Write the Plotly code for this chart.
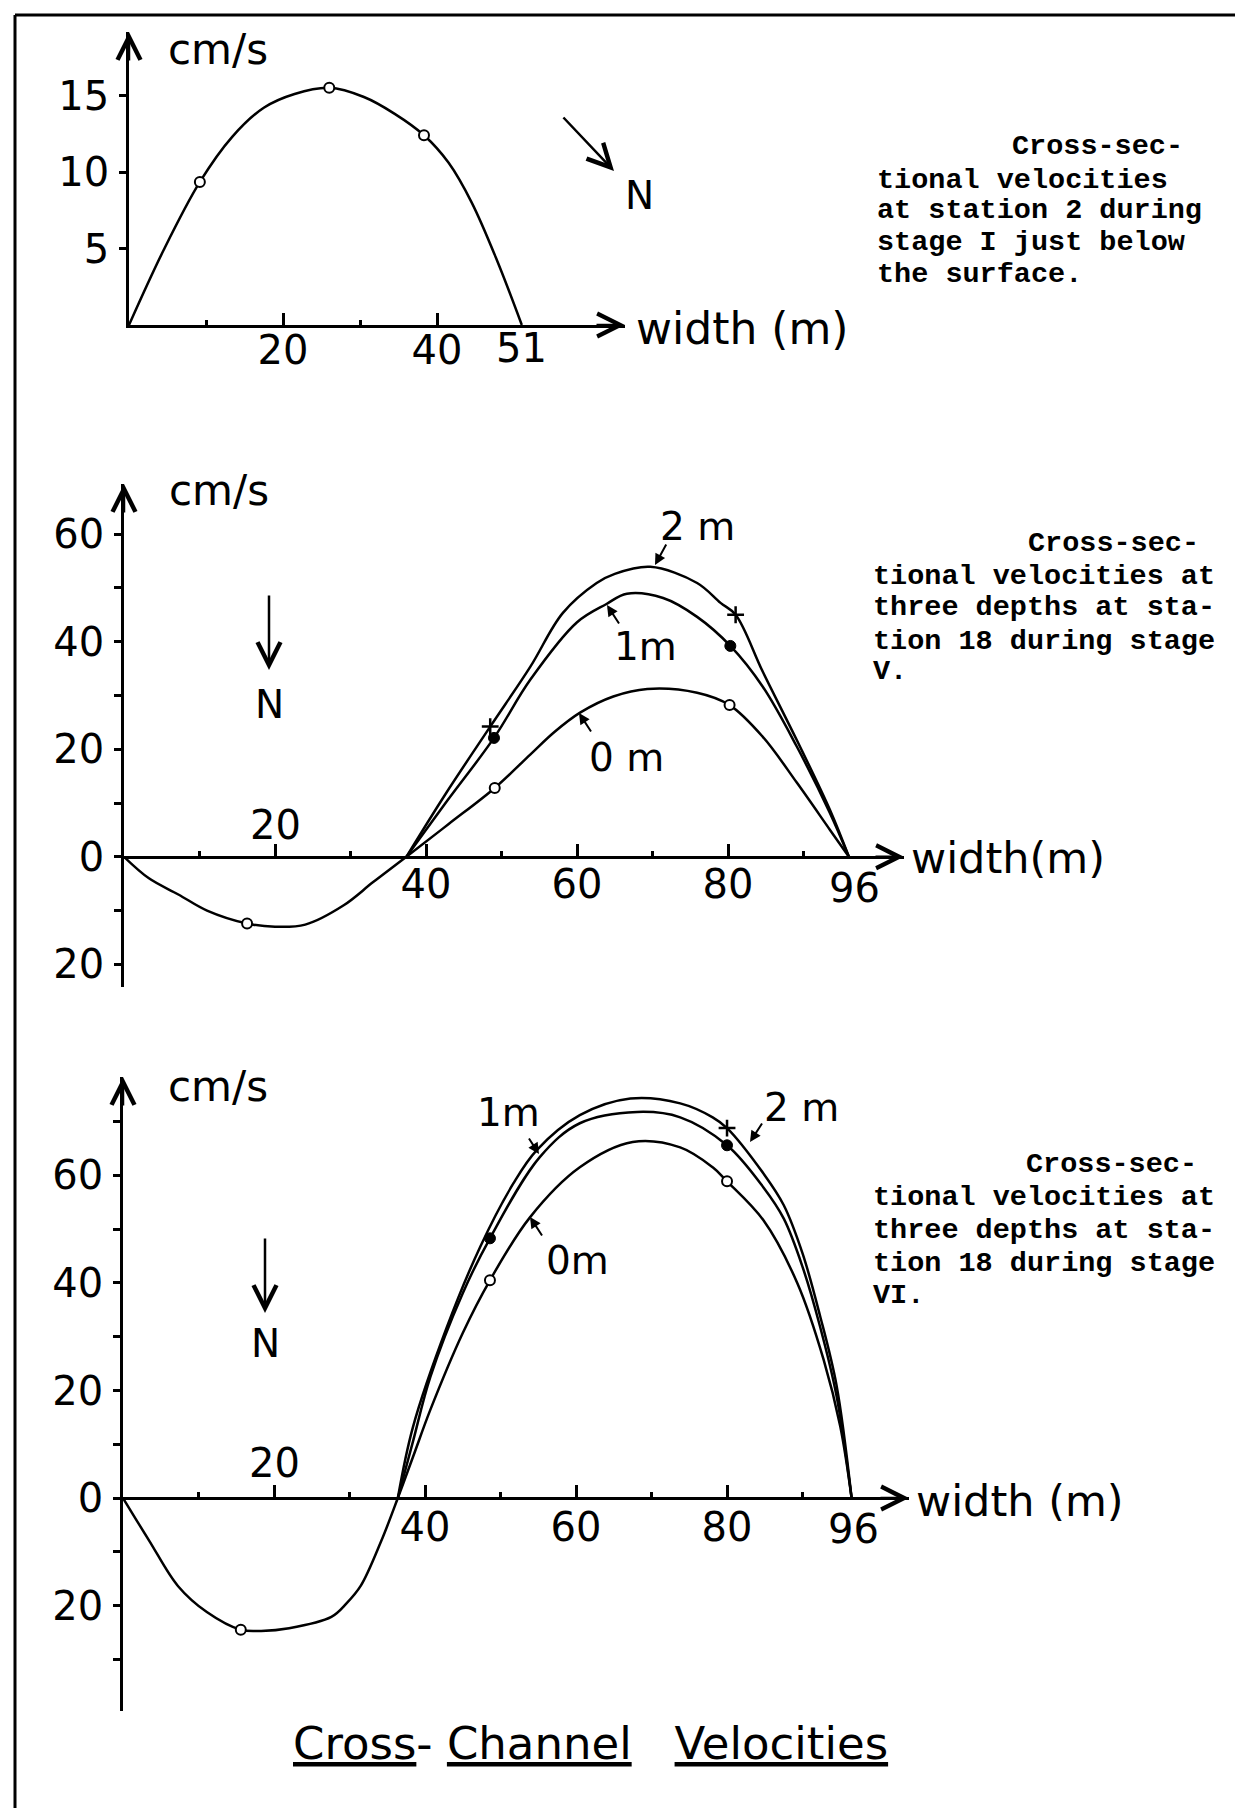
import plotly.graph_objects as go

# page geometry (the html body has an 8 px margin)
PAGE_W, PAGE_H = 1243, 1816
OFF = 8
FW, FH = PAGE_W - OFF, PAGE_H - 2 * OFF

# ---------------- data ----------------
# Panel 1: station 2, stage I, just below the surface
p1_curve_x = [0, 4.5, 9.2, 13.4, 17.5, 21.5, 26.0, 30.5, 34.5, 38.3, 41.5, 44.5, 47.8, 51]
p1_curve_y = [0, 4.9, 9.35, 12.3, 14.2, 15.1, 15.5, 14.9, 13.8, 12.4, 10.6, 8.0, 4.2, 0]
p1_pts_x = [9.2, 26.0, 38.3]
p1_pts_y = [9.35, 15.5, 12.4]
p1_ytick_vals = [5, 10, 15]
p1_ytick_text = ["5", "10", "15"]
p1_xtick_vals = [20, 40]
p1_xtick_text = ["20", "40"]
p1_xminor = [10, 30]
p1_xend_label = (51, "51")

# Panel 2: station 18, stage V (three depths)
p2_0m_x = [0, 3.3, 7.2, 11.0, 16.3, 20.0, 24.0, 29.1, 33.0, 37.4, 43.0, 49.1, 53.8, 57.0, 60.4, 64.8, 69.3, 75.9, 80.2, 84.6, 89.1, 93.5, 96]
p2_0m_y = [0, -4.0, -7.0, -10.0, -12.4, -13.0, -12.6, -9.0, -4.7, 0, 6.1, 12.8, 19.0, 23.2, 26.8, 29.8, 31.2, 30.5, 28.2, 22.3, 13.8, 5.0, 0]
p2_1m_x = [37.4, 42.8, 49.0, 53.8, 60.0, 63.9, 66.6, 71.4, 75.9, 80.3, 84.6, 89.1, 93.5, 96]
p2_1m_y = [0, 10.4, 22.1, 32.9, 43.6, 47.0, 48.9, 48.1, 44.6, 39.2, 31.6, 20.5, 8.1, 0]
p2_2m_x = [37.4, 42.5, 48.5, 53.8, 58.1, 62.6, 65.0, 69.7, 75.9, 79.0, 81.0, 84.6, 89.1, 93.5, 96]
p2_2m_y = [0, 11.5, 24.2, 35.3, 45.3, 50.9, 52.6, 53.9, 50.9, 47.2, 45.0, 34.4, 21.7, 8.7, 0]
p2_0m_pts_x = [16.3, 49.1, 80.2]
p2_0m_pts_y = [-12.4, 12.8, 28.2]
p2_1m_pts_x = [49.0, 80.3]
p2_1m_pts_y = [22.1, 39.2]
p2_2m_pts_x = [48.5, 81.0]
p2_2m_pts_y = [24.2, 45.0]
p2_ytick_vals = [-20, -10, 0, 10, 20, 30, 40, 50, 60]
p2_ytick_text = ["20", "", "0", "", "20", "", "40", "", "60"]

# Panel 3: station 18, stage VI (three depths)
p3_0m_x = [0, 3.5, 7.3, 11.1, 15.6, 18.3, 22.0, 27.6, 29.6, 31.5, 34.2, 36.4, 38.5, 40.7, 45.0, 48.6, 53.9, 60.5, 67.5, 73.8, 78.1, 80.0, 84.8, 89.3, 92.8, 95.0, 96.5]
p3_0m_y = [0, -8.0, -16.4, -21.2, -24.5, -24.7, -24.2, -22.1, -19.6, -16.3, -8.0, 0, 8.0, 16.4, 30.7, 40.5, 52.2, 61.5, 66.2, 65.2, 61.5, 58.9, 51.7, 40.0, 25.7, 13.3, 0]
p3_1m_x = [36.4, 38.4, 40.7, 45.0, 48.6, 55.2, 60.5, 68.1, 73.8, 80.0, 84.8, 87.5, 90.0, 92.3, 94.5, 96.5]
p3_1m_y = [0, 10.5, 22.5, 38.1, 48.3, 63.4, 69.7, 71.8, 70.8, 65.6, 57.8, 52.0, 43.0, 32.0, 19.0, 0]
p3_2m_x = [36.4, 38.4, 42.9, 47.3, 51.7, 54.8, 60.5, 67.2, 73.8, 78.1, 80.0, 84.8, 87.5, 90.0, 92.3, 94.5, 96.5]
p3_2m_y = [0, 13.2, 31.8, 46.7, 58.5, 64.7, 71.2, 74.3, 73.4, 70.8, 68.8, 60.4, 54.5, 45.5, 34.0, 21.0, 0]
p3_0m_pts_x = [15.6, 48.6, 80.0]
p3_0m_pts_y = [-24.5, 40.5, 58.9]
p3_1m_pts_x = [48.6, 80.0]
p3_1m_pts_y = [48.3, 65.6]
p3_2m_pts_x = [80.0]
p3_2m_pts_y = [68.8]
p3_ytick_vals = [-30, -20, -10, 0, 10, 20, 30, 40, 50, 60, 70]
p3_ytick_text = ["", "20", "", "0", "", "20", "", "40", "", "60", ""]

# shared x ticks for panels 2 and 3
p23_xtick_vals = [20, 40, 60, 80]
p23_xtick_text = ["", "40", "60", "80"]
p23_xminor = [10, 30, 50, 70, 90]
p23_x_above_label = (20, "20")
p23_xend_label = (96, "96")

caption1 = ["Cross-sec-", "tional velocities", "at station 2 during", "stage I just below", "the surface."]
caption2 = ["Cross-sec-", "tional velocities at", "three depths at sta-", "tion 18 during stage", "V."]
caption3 = ["Cross-sec-", "tional velocities at", "three depths at sta-", "tion 18 during stage", "VI."]

# ---------------- helpers ----------------
def px(x):
    return (x - OFF) / FW

def py(y):
    return 1 - (y - OFF) / FH

SANS = "DejaVu Sans"
MONO = "Liberation Mono"
FS = 40

fig = go.Figure()

def curve(x, y, xa, ya):
    fig.add_trace(go.Scatter(x=x, y=y, mode="lines", xaxis=xa, yaxis=ya,
                             line=dict(color="black", width=2.5, shape="spline", smoothing=1.0),
                             hoverinfo="skip", showlegend=False))

def points(x, y, xa, ya, kind):
    if kind == "open":
        m = dict(symbol="circle", size=10, color="white", line=dict(color="black", width=2))
    elif kind == "filled":
        m = dict(symbol="circle", size=11, color="black", line=dict(color="black", width=1))
    else:
        m = dict(symbol="cross-thin", size=12, color="black", line=dict(color="black", width=2.5))
    fig.add_trace(go.Scatter(x=x, y=y, mode="markers", xaxis=xa, yaxis=ya, marker=m,
                             hoverinfo="skip", showlegend=False))

curve(p1_curve_x, p1_curve_y, "x", "y")
points(p1_pts_x, p1_pts_y, "x", "y", "open")

curve(p2_0m_x, p2_0m_y, "x2", "y2")
curve(p2_1m_x, p2_1m_y, "x2", "y2")
curve(p2_2m_x, p2_2m_y, "x2", "y2")
points(p2_0m_pts_x, p2_0m_pts_y, "x2", "y2", "open")
points(p2_1m_pts_x, p2_1m_pts_y, "x2", "y2", "filled")
points(p2_2m_pts_x, p2_2m_pts_y, "x2", "y2", "plus")

curve(p3_0m_x, p3_0m_y, "x3", "y3")
curve(p3_1m_x, p3_1m_y, "x3", "y3")
curve(p3_2m_x, p3_2m_y, "x3", "y3")
points(p3_0m_pts_x, p3_0m_pts_y, "x3", "y3", "open")
points(p3_1m_pts_x, p3_1m_pts_y, "x3", "y3", "filled")
points(p3_2m_pts_x, p3_2m_pts_y, "x3", "y3", "plus")

tickfont = dict(family=SANS, size=FS, color="black")

def xaxis(domain, rng, tv, tt, minor, anchor, standoff, position=None):
    d = dict(domain=domain, range=rng, showline=True, linecolor="black", linewidth=2.5,
             showgrid=False, zeroline=False, tickmode="array", tickvals=tv, ticktext=tt,
             ticks="inside", ticklen=12, tickwidth=2.5, tickcolor="black", tickfont=tickfont,
             ticklabelstandoff=standoff,
             minor=dict(tickmode="array", tickvals=minor, ticks="inside", ticklen=5,
                        tickwidth=2.5, tickcolor="black"),
             fixedrange=True)
    if position is None:
        d["anchor"] = anchor
    else:
        d["anchor"] = "free"
        d["position"] = position
    return d

def yaxis(domain, rng, tv, tt, anchor):
    return dict(domain=domain, range=rng, anchor=anchor, showline=True, linecolor="black",
                linewidth=2.5, showgrid=False, zeroline=False, tickmode="array", tickvals=tv,
                ticktext=tt, ticks="outside", ticklen=7, tickwidth=2.5, tickcolor="black",
                tickfont=tickfont, ticklabelstandoff=2, fixedrange=True)

# ranges (derived from pixel layout of the reference)
r1x, r1y = [0, 64.4], [0, 19.15]
r2x, r2y = [0, 103.3], [-24.2, 69.3]
r3x, r3y = [0, 104.1], [-39.6, 78.3]

layout = dict(
    width=FW, height=FH, autosize=False,
    margin=dict(l=0, r=0, t=0, b=0),
    paper_bgcolor="white", plot_bgcolor="white",
    showlegend=False,
    xaxis=xaxis([px(129), px(625)], r1x, p1_xtick_vals, p1_xtick_text, p1_xminor, "y", -12),
    yaxis=yaxis([py(325), py(32)], r1y, p1_ytick_vals, p1_ytick_text, "x"),
    xaxis2=xaxis([px(124), px(904)], r2x, p23_xtick_vals, p23_xtick_text, p23_xminor, None, -9,
                 position=py(857)),
    yaxis2=yaxis([py(987), py(484)], r2y, p2_ytick_vals, p2_ytick_text, "x2"),
    xaxis3=xaxis([px(123), px(909)], r3x, p23_xtick_vals, p23_xtick_text, p23_xminor, None, -7,
                 position=py(1498)),
    yaxis3=yaxis([py(1711), py(1077)], r3y, p3_ytick_vals, p3_ytick_text, "x3"),
)
fig.update_layout(**layout)

ann = []

def text(x, y, s, size=FS, family=SANS, xanchor="center", yanchor="middle", xref="paper", yref="paper", yshift=0):
    ann.append(dict(x=x, y=y, xref=xref, yref=yref, text=s, showarrow=False,
                    xanchor=xanchor, yanchor=yanchor, yshift=yshift,
                    font=dict(family=family, size=size, color="black")))

def arrow(x, y, ax, ay, xref="paper", yref="paper", head=5, size=1.8, width=2.5):
    ann.append(dict(x=x, y=y, xref=xref, yref=yref, ax=ax, ay=ay, axref="pixel", ayref="pixel",
                    text="", showarrow=True, arrowhead=head, arrowsize=size, arrowwidth=width,
                    arrowcolor="black", standoff=0, startstandoff=0))

# axis arrowheads
arrow(r1x[1], 0, -30, 0, "x", "y")
arrow(0, r1y[1], 0, 30, "x", "y")
arrow(r2x[1], 0, -30, 0, "x2", "y2")
arrow(0, r2y[1], 0, 30, "x2", "y2")
arrow(r3x[1], 0, -30, 0, "x3", "y3")
arrow(0, r3y[1], 0, 30, "x3", "y3")

# axis titles / units
text(px(218), py(49), "cm/s", size=42)
text(px(219), py(490), "cm/s", size=42)
text(px(218), py(1086), "cm/s", size=42)
text(px(634), py(328), "width (m)", size=44, xanchor="left")
text(px(909), py(858), "width(m)", size=43, xanchor="left")
text(px(914), py(1501), "width (m)", size=43, xanchor="left")

# extra tick labels
text(p1_xend_label[0], 0, p1_xend_label[1], xref="x", yref="y", yshift=-23)
text(p23_x_above_label[0], 0, p23_x_above_label[1], xref="x2", yref="y2", yshift=32)
text(p23_xend_label[0] + 0.7, 0, p23_xend_label[1], xref="x2", yref="y2", yshift=-31)
text(p23_x_above_label[0], 0, p23_x_above_label[1], xref="x3", yref="y3", yshift=35)
text(p23_xend_label[0] + 0.7, 0, p23_xend_label[1], xref="x3", yref="y3", yshift=-31)

# north arrows
arrow(px(614), py(171), -52, -55)
text(px(639), py(195), "N", size=39)
arrow(px(269), py(670), 0, -76)
text(px(269), py(704), "N", size=39)
arrow(px(265), py(1313), 0, -76)
text(px(265), py(1343), "N", size=39)

# depth labels with pointer arrows
text(px(697), py(526), "2 m", size=39)
arrow(px(655), py(565), 12, -22, head=2, size=1.1, width=2)
text(px(645), py(646), "1m", size=39)
arrow(px(607), py(605), 13, 20, head=2, size=1.1, width=2)
text(px(626), py(757), "0 m", size=39)
arrow(px(579), py(713), 13, 20, head=2, size=1.1, width=2)

text(px(509), py(1112), "1m", size=39)
arrow(px(539), py(1154), -11, -17, head=2, size=1.1, width=2)
text(px(801), py(1107), "2 m", size=39)
arrow(px(750), py(1142), 13, -20, head=2, size=1.1, width=2)
text(px(577), py(1260), "0m", size=39)
arrow(px(530), py(1217), 13, 20, head=2, size=1.1, width=2)

# typewritten captions
def caption(lines, first_x, left_x, ys):
    for i, (s, yy) in enumerate(zip(lines, ys)):
        text(px(first_x if i == 0 else left_x), py(yy), "<b>" + s + "</b>", size=28.5,
             family=MONO, xanchor="left")

caption(caption1, 1010, 875, [147, 180, 211, 242, 275])
caption(caption2, 1026, 871, [543, 576, 608, 641, 672])
caption(caption3, 1024, 871, [1164, 1197, 1230, 1263, 1295])

# title
text(px(590), py(1743), "<u>Cross</u>-\u00a0<u>Channel</u>\u00a0\u00a0\u00a0<u>Velocities</u>", size=45)

fig.update_layout(annotations=ann)

# page frame
frame = dict(type="line", xref="paper", yref="paper", line=dict(color="black", width=3))
fig.update_layout(shapes=[
    dict(frame, x0=px(15), y0=py(15), x1=1, y1=py(15)),
    dict(frame, x0=px(15), y0=py(15), x1=px(15), y1=0),
    dict(frame, x0=px(1240), y0=py(1200), x1=px(1240), y1=0),
])

fig.write_html("out.html", config={"displayModeBar": False})
